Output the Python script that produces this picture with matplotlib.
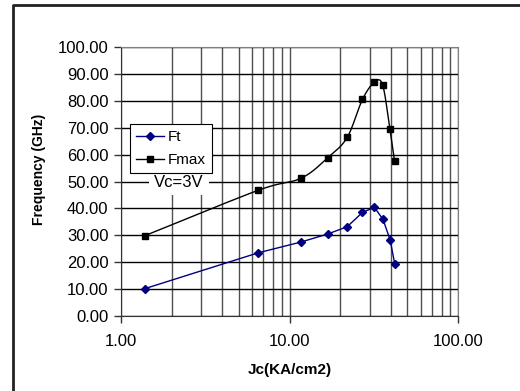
import numpy as np
import matplotlib
matplotlib.use("Agg")
from matplotlib import pyplot as plt
from matplotlib.lines import Line2D
from matplotlib.ticker import FixedLocator, NullFormatter

plt.rcParams['font.family'] = ['Liberation Sans', 'DejaVu Sans']

# data
jc_ft = [1.39, 6.53, 11.7, 16.9, 22.0, 27.1, 31.9, 35.9, 39.5, 42.1]
ft = [10.2, 23.5, 27.5, 30.5, 33.2, 38.5, 40.4, 35.9, 28.4, 19.5]
jc_fmax = [1.39, 6.5, 11.7, 16.9, 22.0, 27.1, 31.9, 35.7, 39.4, 42.0]
fmax = [29.9, 46.7, 51.2, 58.9, 66.4, 80.5, 86.9, 85.9, 69.6, 57.7]
y_ticks = [0, 10, 20, 30, 40, 50, 60, 70, 80, 90, 100]
x_ticks = [1, 10, 100]


def smooth(xs, ys, n=20):
    # catmull-rom in (log x, y) space, like Excel's smoothed line
    lx = np.log10(xs)
    y = np.asarray(ys, dtype=float)
    px = np.concatenate([[2 * lx[0] - lx[1]], lx, [2 * lx[-1] - lx[-2]]])
    py = np.concatenate([[2 * y[0] - y[1]], y, [2 * y[-1] - y[-2]]])
    outx, outy = [], []
    t = np.linspace(0, 1, n)
    for i in range(1, len(px) - 2):
        for arr, out in ((px, outx), (py, outy)):
            p0, p1, p2, p3 = arr[i - 1], arr[i], arr[i + 1], arr[i + 2]
            out.extend(0.5 * (2 * p1 + (-p0 + p2) * t
                              + (2 * p0 - 5 * p1 + 4 * p2 - p3) * t ** 2
                              + (-p0 + 3 * p1 - 3 * p2 + p3) * t ** 3))
    return 10 ** np.array(outx), np.array(outy)


fig = plt.figure(figsize=(5.2, 3.91), dpi=100)
ax = fig.add_axes([121 / 520, 75 / 391, 337 / 520, 269 / 391])

ax.set_xscale('log')
ax.set_xlim(1, 100)
ax.set_ylim(0, 100)

ax.xaxis.set_major_locator(FixedLocator(x_ticks))
ax.xaxis.set_minor_locator(FixedLocator([m * d for d in (1, 10) for m in range(2, 10)]))
ax.xaxis.set_minor_formatter(NullFormatter())
ax.set_xticklabels(['%.2f' % v for v in x_ticks])
ax.set_yticks(y_ticks)
ax.set_yticklabels(['%.2f' % v for v in y_ticks])

ax.grid(True, which='both', axis='x', color='#505050', linewidth=1.0)
ax.grid(True, which='major', axis='y', color='black', linewidth=1.0)
ax.set_axisbelow(True)
ax.tick_params(axis='both', which='major', labelsize=12, length=5, width=1, color='#333333')
ax.tick_params(axis='x', which='major', pad=8)
ax.tick_params(axis='y', which='major', pad=4)
ax.tick_params(axis='x', which='minor', length=0)
for side in ('top', 'right'):
    ax.spines[side].set_color('#808080')
for side in ('left', 'bottom'):
    ax.spines[side].set_color('#333333')

ax.plot(jc_ft, ft, color='#000080', linewidth=1, marker='D', markersize=4.5,
        markerfacecolor='#000080', markeredgecolor='#000080', zorder=3)
sx, sy = smooth(jc_fmax, fmax)
ax.plot(sx, sy, color='black', linewidth=1, zorder=3)
ax.plot(jc_fmax, fmax, linestyle='none', marker='s', markersize=5,
        color='black', zorder=4)

handles = [Line2D([], [], color='#000080', marker='D', markersize=4.5, linewidth=1),
           Line2D([], [], color='black', marker='s', markersize=5, linewidth=1)]
leg = ax.legend(handles, ['Ft', 'Fmax'], loc='upper left',
                bbox_to_anchor=(9 / 337, 1 - 77 / 269), fontsize=11,
                fancybox=False, framealpha=1, edgecolor='black',
                handlelength=1.8, borderpad=0.4, labelspacing=0.6,
                handletextpad=0.3, borderaxespad=0)
leg.get_frame().set_linewidth(0.8)

ax.text(2.21, 49.8, 'Vc=3V', fontsize=12, ha='center', va='center',
        bbox=dict(facecolor='white', edgecolor='none', boxstyle='square,pad=0.3'), zorder=5)

ax.set_xlabel('Jc(KA/cm2)', fontsize=11, fontweight='bold')
ax.xaxis.set_label_coords(0.5, -0.175)
ax.set_ylabel('Frequency (GHz)', fontsize=10, fontweight='bold')
ax.yaxis.set_label_coords(-0.222, 0.545)

# outer chart frame, only top and left edges visible
fig.add_artist(Line2D([13 / 520, 13 / 520, 1.0], [0.0, 1 - 5 / 391, 1 - 5 / 391],
                      transform=fig.transFigure, color='#222222', linewidth=2))

fig.savefig('out.png', dpi=100)
